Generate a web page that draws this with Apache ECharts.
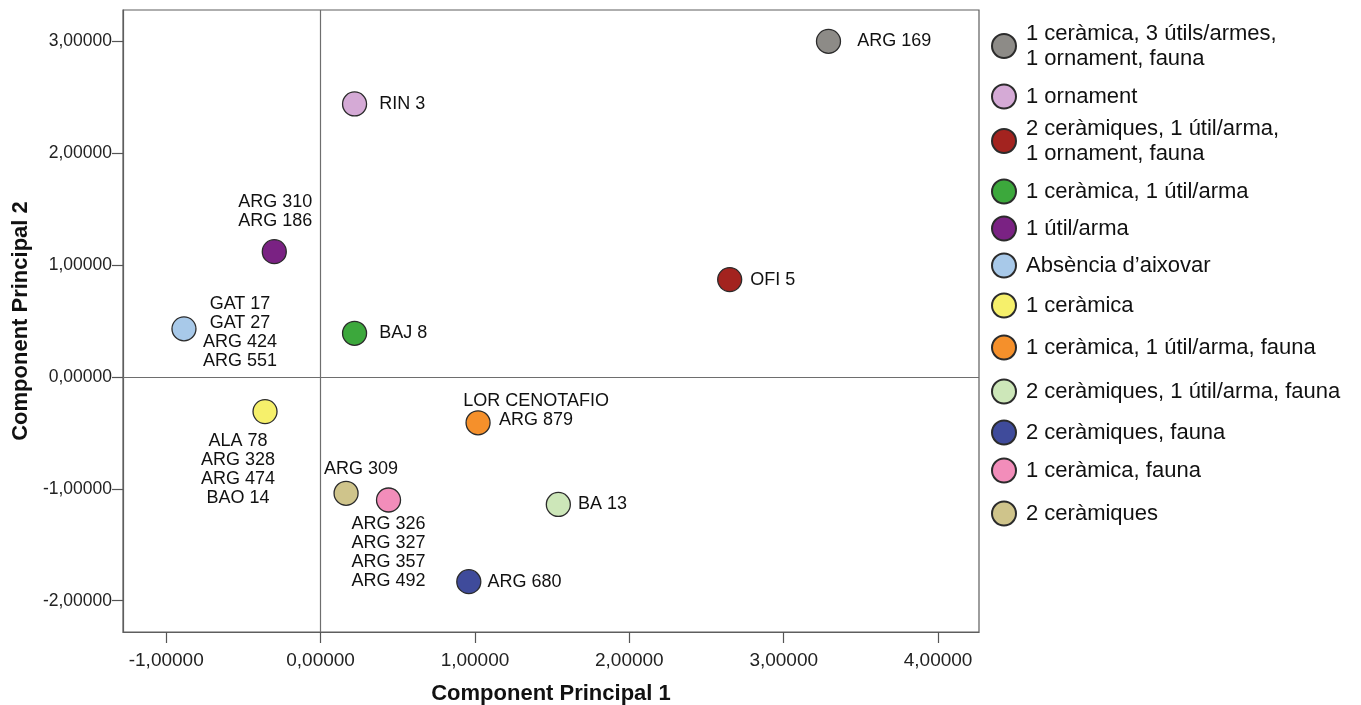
<!DOCTYPE html>
<html>
<head>
<meta charset="utf-8">
<script src="https://cdn.jsdelivr.net/npm/echarts@6/dist/echarts.min.js"></script>
<style>
html,body{margin:0;padding:0;background:#fff;}
#chart{width:1361px;height:705px;}
</style>
</head>
<body>
<div id="chart"></div>
<script>
// ---- data ----
const categories = [
  '1 ceràmica, 3 útils/armes,\n1 ornament, fauna',
  '1 ornament',
  '2 ceràmiques, 1 útil/arma,\n1 ornament, fauna',
  '1 ceràmica, 1 útil/arma',
  '1 útil/arma',
  'Absència d\u2019aixovar',
  '1 ceràmica',
  '1 ceràmica, 1 útil/arma, fauna',
  '2 ceràmiques, 1 útil/arma, fauna',
  '2 ceràmiques, fauna',
  '1 ceràmica, fauna',
  '2 ceràmiques'
];
const pointLabels = [
  'ARG 169',
  'RIN 3',
  'OFI 5',
  'BAJ 8',
  'ARG 310\nARG 186',
  'GAT 17\nGAT 27\nARG 424\nARG 551',
  'ALA 78\nARG 328\nARG 474\nBAO 14',
  'LOR CENOTAFIO\nARG 879',
  'BA 13',
  'ARG 680',
  'ARG 326\nARG 327\nARG 357\nARG 492',
  'ARG 309'
];
const pc1 = [3.29, 0.22, 2.65, 0.22, -0.30, -0.885, -0.36, 1.02, 1.54, 0.96, 0.44, 0.165];
const pc2 = [3.00, 2.44, 0.87, 0.39, 1.12, 0.43, -0.31, -0.41, -1.14, -1.83, -1.10, -1.04];
const xTicks = [-1, 0, 1, 2, 3, 4];
const yTicks = [-2, -1, 0, 1, 2, 3];

// ---- styles ----
const colors = ['#8d8b87', '#d5aad6', '#a3231f', '#3ca83c', '#7a2283', '#a8c9e9',
                '#f6f06b', '#f5902b', '#cde7b9', '#3f4b9b', '#f28dba', '#cfc48b'];
const labelStyles = [
  {position: 'right', distance: 16},
  {position: 'right', distance: 12},
  {position: 'right', distance: 8},
  {position: 'right', distance: 12},
  {position: 'inside', offset: [1, -40]},
  {position: 'inside', offset: [56, 4]},
  {position: 'inside', offset: [-27, 58]},
  {position: 'inside', offset: [58, -12]},
  {position: 'right', distance: 7},
  {position: 'right', distance: 6},
  {position: 'inside', offset: [0, 53]},
  {position: 'inside', offset: [15, -24]}
];
const legendCenters = [46, 96, 141, 191, 228, 265, 305, 347, 391, 432, 470, 513];

const FONT = '"Liberation Sans", Arial, Helvetica, sans-serif';
const fmt = v => v.toFixed(5).replace('.', ',');

const series = categories.map((cat, i) => {
  const s = {
    type: 'scatter',
    name: cat,
    symbol: 'circle',
    symbolSize: 24,
    itemStyle: {color: colors[i], borderColor: '#2b2b2b', borderWidth: 1.3, opacity: 1},
    label: Object.assign({
      show: true,
      formatter: pointLabels[i],
      color: '#111',
      fontFamily: FONT,
      fontSize: 18,
      lineHeight: 19,
      align: labelStyles[i].position === 'inside' ? 'center' : 'left',
      verticalAlign: 'middle'
    }, labelStyles[i]),
    emphasis: {disabled: true},
    data: [[pc1[i], pc2[i]]],
    z: 3
  };
  if (i === 0) {
    s.markLine = {
      silent: true,
      symbol: 'none',
      label: {show: false},
      lineStyle: {color: '#6e6e6e', width: 1.2, type: 'solid'},
      emphasis: {disabled: true},
      data: [{xAxis: 0}, {yAxis: 0}],
      z: 1
    };
  }
  return s;
});

const legends = categories.map((cat, i) => {
  const twoLine = cat.indexOf('\n') >= 0;
  return {
    data: [cat],
    left: 991,
    top: legendCenters[i] - (twoLine ? 25 : 12.5),
    orient: 'vertical',
    padding: 0,
    icon: 'circle',
    itemWidth: 34,
    itemHeight: 24,
    selectedMode: false,
    textStyle: {fontFamily: FONT, fontSize: 22, lineHeight: 25, color: '#111'}
  };
});

const chart = echarts.init(document.getElementById('chart'), null, {renderer: 'canvas'});
chart.setOption({
  animation: false,
  backgroundColor: '#fff',
  grid: {left: 123, right: 382, top: 10, bottom: 73, show: true, borderColor: '#5e5e5e', borderWidth: 1.2,
         containLabel: false, outerBoundsMode: 'none'},
  legend: legends,
  xAxis: {
    type: 'value',
    min: -1.28,
    max: 4.265,
    name: 'Component Principal 1',
    nameLocation: 'middle',
    nameGap: 51,
    nameTextStyle: {fontFamily: FONT, fontSize: 22, fontWeight: 'bold', color: '#111'},
    axisLine: {show: true, onZero: false, lineStyle: {color: '#5e5e5e', width: 1.2}},
    axisTick: {show: true, inside: false, length: 11, customValues: xTicks, lineStyle: {color: '#555', width: 1.2}},
    axisLabel: {customValues: xTicks, formatter: fmt, margin: 19, fontFamily: FONT, fontSize: 19, color: '#222'},
    splitLine: {show: false}
  },
  yAxis: {
    type: 'value',
    min: -2.28,
    max: 3.28,
    name: 'Component Principal 2',
    nameLocation: 'middle',
    nameGap: 88,
    nameTextStyle: {fontFamily: FONT, fontSize: 22, fontWeight: 'bold', color: '#111'},
    axisLine: {show: true, onZero: false, lineStyle: {color: '#5e5e5e', width: 1.2}},
    axisTick: {show: true, inside: false, length: 11, customValues: yTicks, lineStyle: {color: '#555', width: 1.2}},
    axisLabel: {customValues: yTicks, formatter: fmt, margin: 11, fontFamily: FONT, fontSize: 17.5, color: '#222'},
    splitLine: {show: false}
  },
  series: series
});
</script>
</body>
</html>
